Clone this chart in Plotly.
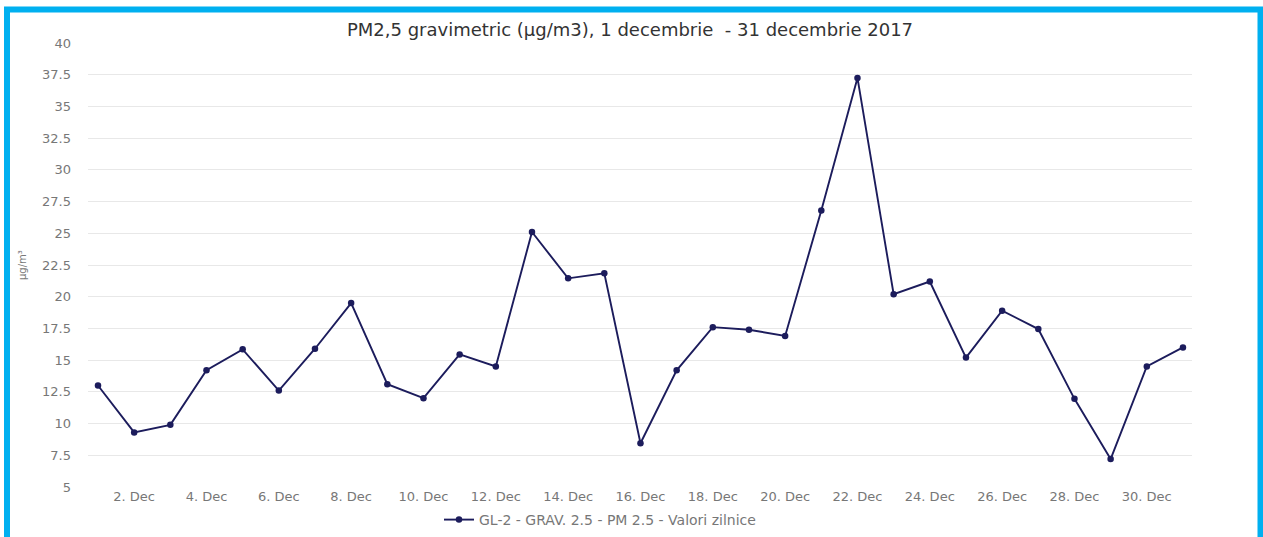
import plotly.graph_objects as go

# Data
dates = [f"2017-12-{d:02d}" for d in range(1, 32)]
pm25 = [13.0, 9.3, 9.9, 14.2, 15.85, 12.6, 15.9, 19.5, 13.1, 12.0,
        15.45, 14.5, 25.1, 21.45, 21.85, 8.45, 14.2, 17.6, 17.4, 16.9,
        26.8, 37.25, 20.2, 21.2, 15.2, 18.9, 17.45, 11.95, 7.2, 14.5, 16.0]
series_name = "GL-2 - GRAV. 2.5 - PM 2.5 - Valori zilnice"
title_text = "PM2,5 gravimetric (µg/m3), 1 decembrie  - 31 decembrie 2017"
y_ticks = [5, 7.5, 10, 12.5, 15, 17.5, 20, 22.5, 25, 27.5, 30, 32.5, 35, 37.5, 40]
y_ticktext = ["5", "7.5", "10", "12.5", "15", "17.5", "20", "22.5", "25",
              "27.5", "30", "32.5", "35", "37.5", "40"]

FONT = "DejaVu Sans"
W, H = 1263, 537
L, T = 88, 43
R, B = W - 1192, H - 487
PW, PH = W - L - R, H - T - B

def px_x(px):
    return (px - L) / PW

def px_y(py):
    return (H - B - py) / PH

fig = go.Figure()
fig.add_trace(go.Scatter(
    x=dates, y=pm25, mode="lines+markers", name=series_name,
    line=dict(color="#1c1c5c", width=1.9),
    marker=dict(color="#1c1c5c", size=6.5, symbol="circle"),
))

fig.update_layout(
    width=W, height=H,
    margin=dict(l=L, r=R, t=T, b=B, pad=0, autoexpand=False),
    paper_bgcolor="white", plot_bgcolor="white",
    font=dict(family=FONT, size=13, color="#777777"),
    title=dict(text=title_text, x=px_x(630), xanchor="center",
               xref="paper",
               y=1 - 30 / H, yanchor="middle",
               font=dict(family=FONT, size=18, color="#333333")),
    showlegend=True,
    legend=dict(orientation="h", x=px_x(600), xanchor="center",
                yref="container", y=1 - 520 / H, yanchor="middle",
                font=dict(family=FONT, size=14, color="#777777"),
                bgcolor="rgba(0,0,0,0)"),
    xaxis=dict(
        type="date",
        range=["2017-11-30 17:22", "2017-12-31 06:00"],
        tick0="2017-12-02", dtick=2 * 86400000,
        tickformat="%-d. %b",
        showgrid=False, zeroline=False, showline=False,
        ticks="", automargin=False,
        tickfont=dict(size=13, color="#777777"),
    ),
    yaxis=dict(
        range=[5, 40], tickvals=y_ticks, ticktext=y_ticktext,
        showgrid=True, gridcolor="#e8e8e8", gridwidth=1,
        zeroline=False, showline=False, ticks="",
        ticklabelstandoff=16, automargin=False,
        tickfont=dict(size=13, color="#777777"),
    ),
    annotations=[dict(
        text="µg/m³", xref="paper", yref="paper",
        x=px_x(22), y=px_y(265), textangle=-90, showarrow=False,
        xanchor="center", yanchor="middle",
        font=dict(family=FONT, size=10, color="#777777"),
    )],
    shapes=[dict(
        type="rect", xref="paper", yref="paper",
        x0=px_x(7), x1=px_x(1260.5), y0=px_y(548), y1=px_y(9.5),
        line=dict(color="#00b0f0", width=6), fillcolor="rgba(0,0,0,0)",
        layer="above",
    )],
)

fig.write_html("out.html",
               config={"displayModeBar": False},
               post_script="document.body.style.margin='0px';"
                           "document.body.style.overflow='hidden';")
